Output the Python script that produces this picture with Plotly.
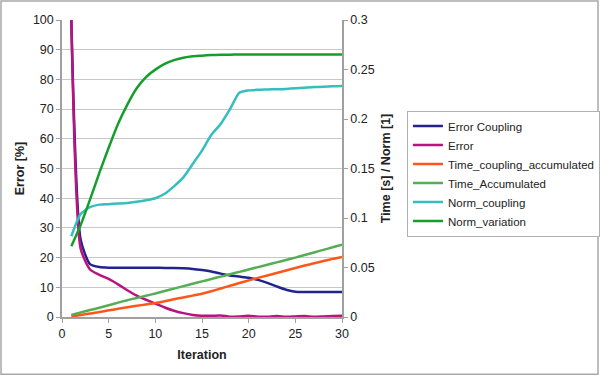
import plotly.graph_objects as go

iteration = list(range(1, 31))

# Left axis: Error [%]
error_coupling = [100, 26, 17.8, 16.8, 16.6, 16.6, 16.6, 16.6, 16.6, 16.6,
                  16.5, 16.5, 16.4, 16.2, 15.8, 15.3, 14.6, 14.0, 13.6, 13.2,
                  12.5, 11.5, 10.3, 9.2, 8.5, 8.4, 8.4, 8.4, 8.4, 8.4]
error = [100, 23, 16, 14.2, 12.8, 11.0, 9.0, 7.2, 5.8, 4.5,
         3.2, 2.1, 1.3, 0.7, 0.4, 0.4, 0.5, 0.1, 0.2, 0.4,
         0.1, 0.1, 0.3, 0.1, 0.2, 0.3, 0.1, 0.2, 0.3, 0.4]

# Right axis: Time [s] / Norm [1]
time_coupling_accumulated = [0.0005, 0.002, 0.0035, 0.005, 0.0068, 0.0083, 0.0098, 0.0113, 0.0127, 0.0141,
                             0.016, 0.018, 0.0198, 0.0216, 0.0235, 0.026, 0.0288, 0.0315, 0.0343, 0.037,
                             0.0395, 0.042, 0.0445, 0.047, 0.0495, 0.052, 0.0542, 0.0565, 0.0587, 0.0607]
time_accumulated = [0.002, 0.0045, 0.007, 0.0093, 0.0118, 0.0145, 0.017, 0.0192, 0.0215, 0.0237,
                    0.0262, 0.0287, 0.0312, 0.0336, 0.036, 0.0384, 0.0408, 0.0432, 0.0456, 0.048,
                    0.0504, 0.0528, 0.0552, 0.0576, 0.060, 0.0626, 0.0652, 0.0678, 0.0704, 0.073]
norm_coupling = [0.0816, 0.104, 0.111, 0.1135, 0.114, 0.1146, 0.1152, 0.1164, 0.1179, 0.120,
                 0.1245, 0.132, 0.141, 0.1545, 0.168, 0.184, 0.195, 0.210, 0.2265, 0.2289,
                 0.2295, 0.2298, 0.2301, 0.2304, 0.231, 0.2316, 0.2322, 0.2325, 0.2331, 0.2334]
norm_variation = [0.0714, 0.093, 0.1185, 0.1455, 0.171, 0.195, 0.2145, 0.231, 0.2424, 0.2499,
                  0.2556, 0.2595, 0.2619, 0.2634, 0.264, 0.2646, 0.2649, 0.2650, 0.2652, 0.2652,
                  0.2652, 0.2652, 0.2652, 0.2652, 0.2652, 0.2652, 0.2652, 0.2652, 0.2652, 0.2652]

FONT = "Liberation Sans, Arial, sans-serif"

fig = go.Figure()
series = [
    ("Error Coupling", error_coupling, "y", "#23238C"),
    ("Error", error, "y", "#B8137F"),
    ("Time_coupling_accumulated", time_coupling_accumulated, "y2", "#FA5719"),
    ("Time_Accumulated", time_accumulated, "y2", "#55AD55"),
    ("Norm_coupling", norm_coupling, "y2", "#36BDBD"),
    ("Norm_variation", norm_variation, "y2", "#159E2C"),
]
for name, vals, yax, col in series:
    fig.add_trace(go.Scatter(x=iteration, y=vals, name=name, yaxis=yax, mode="lines",
                             line=dict(color=col, width=2.5, shape="spline", smoothing=0.6)))

axis_common = dict(showline=True, linecolor="#A0A0A0", linewidth=1.5, ticks="outside",
                   ticklen=4, tickcolor="#A0A0A0", tickfont=dict(size=12.5, color="#222"),
                   zeroline=False, automargin=False)

fig.update_layout(
    width=600, height=376,
    margin=dict(l=62, r=258, t=20, b=59, autoexpand=False),
    paper_bgcolor="white", plot_bgcolor="white",
    font=dict(family=FONT, size=12, color="#222"),
    xaxis=dict(range=[0, 30], dtick=5, showgrid=False,
               title=dict(text="<b>Iteration</b>", font=dict(size=12.5), standoff=10),
               **axis_common),
    yaxis=dict(range=[0, 100], dtick=10, showgrid=True, gridcolor="#C8C8C8", gridwidth=1,
               title=dict(text="<b>Error [%]</b>", font=dict(size=12.5), standoff=6),
               **axis_common),
    yaxis2=dict(range=[0, 0.3], dtick=0.05, overlaying="y", side="right", showgrid=False,
                title=dict(text="<b>Time [s] / Norm [1]</b>", font=dict(size=12.5), standoff=8),
                **axis_common),
    legend=dict(x=1.232, y=0.695, xanchor="left", yanchor="top",
                bordercolor="#B0B0B0", borderwidth=1, bgcolor="white",
                font=dict(size=11.5), tracegroupgap=0, itemwidth=30),
    showlegend=True,
)

# outer chart border
fig.add_shape(type="rect", xref="paper", yref="paper",
              x0=-61 / 280, x1=536 / 280, y0=-57.3 / 296.7, y1=315.7 / 296.7,
              line=dict(color="#A8A8A8", width=1.5), fillcolor="rgba(0,0,0,0)", layer="below")

fig.write_html("out.html", config={"displayModeBar": False},
               post_script="document.body.style.margin='0';document.body.style.overflow='hidden';")
